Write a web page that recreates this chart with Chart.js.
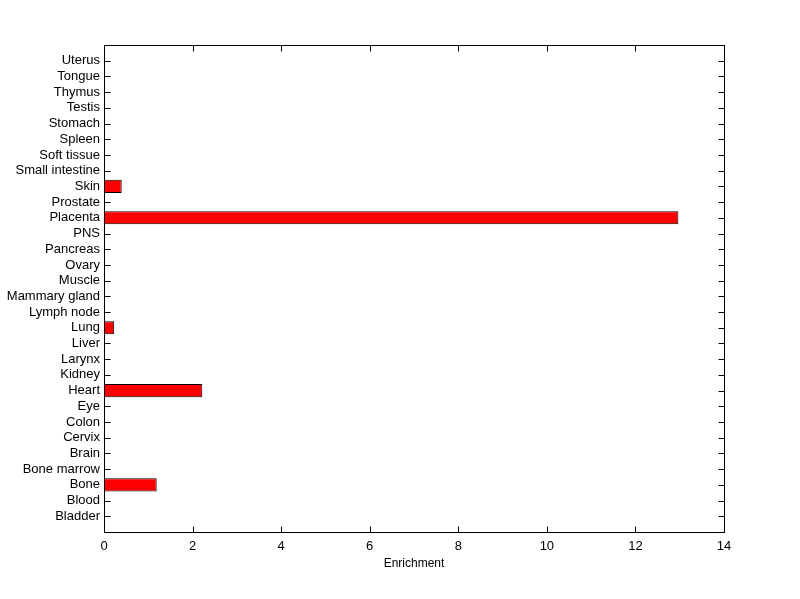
<!DOCTYPE html>
<html>
<head>
<meta charset="utf-8">
<script src="https://cdn.jsdelivr.net/npm/chart.js@4/dist/chart.umd.min.js"></script>
<style>
html,body{margin:0;padding:0;background:#fff;}
#wrap{width:800px;height:599px;}
</style>
</head>
<body>
<div id="wrap"><canvas id="c" width="800" height="599"></canvas></div>
<script>
// Categories listed top to bottom as in the picture
const categories = ['Uterus','Tongue','Thymus','Testis','Stomach','Spleen','Soft tissue','Small intestine','Skin','Prostate','Placenta','PNS','Pancreas','Ovary','Muscle','Mammary gland','Lymph node','Lung','Liver','Larynx','Kidney','Heart','Eye','Colon','Cervix','Brain','Bone marrow','Bone','Blood','Bladder'];
const enrichment = [0,0,0,0,0,0,0,0,0.40,0,12.97,0,0,0,0,0,0,0.23,0,0,0,2.22,0,0,0,0,0,1.19,0,0];
const xTicks = [0,2,4,6,8,10,12,14];
const xTitle = 'Enrichment';

const labels = [''].concat(categories, ['']);
const values = [null].concat(enrichment, [null]);

const FONT = {family: '"Liberation Sans", Arial, Helvetica, sans-serif', size: 13};

function areaBox(chart) {
  const a = chart.chartArea;
  return {L: Math.round(a.left) + 0.5, R: Math.round(a.right) + 0.5,
          T: Math.round(a.top) + 0.5, B: Math.round(a.bottom) + 0.5};
}

const boxTicks = {
  id: 'boxTicks',
  beforeDatasetsDraw(chart) {
    const ctx = chart.ctx;
    const {L, R, T, B} = areaBox(chart);
    ctx.save();
    ctx.strokeStyle = '#000';
    ctx.lineWidth = 1;
    ctx.beginPath();
    const xs = chart.scales.x, ys = chart.scales.y;
    xs.ticks.forEach((t, i) => {
      const px = Math.round(xs.getPixelForTick(i)) + 0.5;
      ctx.moveTo(px, B); ctx.lineTo(px, B - 6);
      ctx.moveTo(px, T); ctx.lineTo(px, T + 6);
    });
    ys.ticks.forEach((t, i) => {
      if (ys.getLabelForValue(t.value) === '') return;
      const py = Math.round(ys.getPixelForTick(i)) + 0.5;
      ctx.moveTo(L, py); ctx.lineTo(L + 6, py);
      ctx.moveTo(R, py); ctx.lineTo(R - 6, py);
    });
    ctx.stroke();
    ctx.restore();
  },
  afterDraw(chart) {
    const ctx = chart.ctx;
    const {L, R, T, B} = areaBox(chart);
    ctx.save();
    ctx.strokeStyle = '#000';
    ctx.lineWidth = 1;
    ctx.strokeRect(L, T, R - L, B - T);
    ctx.restore();
  }
};

new Chart(document.getElementById('c'), {
  type: 'bar',
  data: {
    labels: labels,
    datasets: [{
      data: values,
      backgroundColor: '#ff0000',
      borderColor: '#000000',
      borderWidth: 1,
      borderSkipped: false,
      barPercentage: 0.83,
      categoryPercentage: 1.0
    }]
  },
  options: {
    indexAxis: 'y',
    responsive: false,
    animation: false,
    devicePixelRatio: 1,
    layout: {padding: {left: 0, top: 45, right: 76, bottom: 0}},
    plugins: {legend: {display: false}, tooltip: {enabled: false}},
    scales: {
      x: {
        type: 'linear',
        min: 0, max: 14,
        afterBuildTicks(scale) { scale.ticks = xTicks.map(v => ({value: v})); },
        afterFit(scale) { scale.height = 67; },
        grid: {display: false, drawTicks: false},
        border: {display: false},
        ticks: {color: '#000', font: FONT, padding: 7, maxRotation: 0},
        title: {display: true, text: xTitle, color: '#000', font: {family: FONT.family, size: 12}, padding: {top: 4, bottom: 28}}
      },
      y: {
        type: 'category',
        offset: false,
        afterFit(scale) { scale.width = 104; },
        grid: {display: false, drawTicks: false},
        border: {display: false},
        ticks: {color: '#000', font: FONT, padding: 4, autoSkip: false}
      }
    }
  },
  plugins: [boxTicks]
});
</script>
</body>
</html>
